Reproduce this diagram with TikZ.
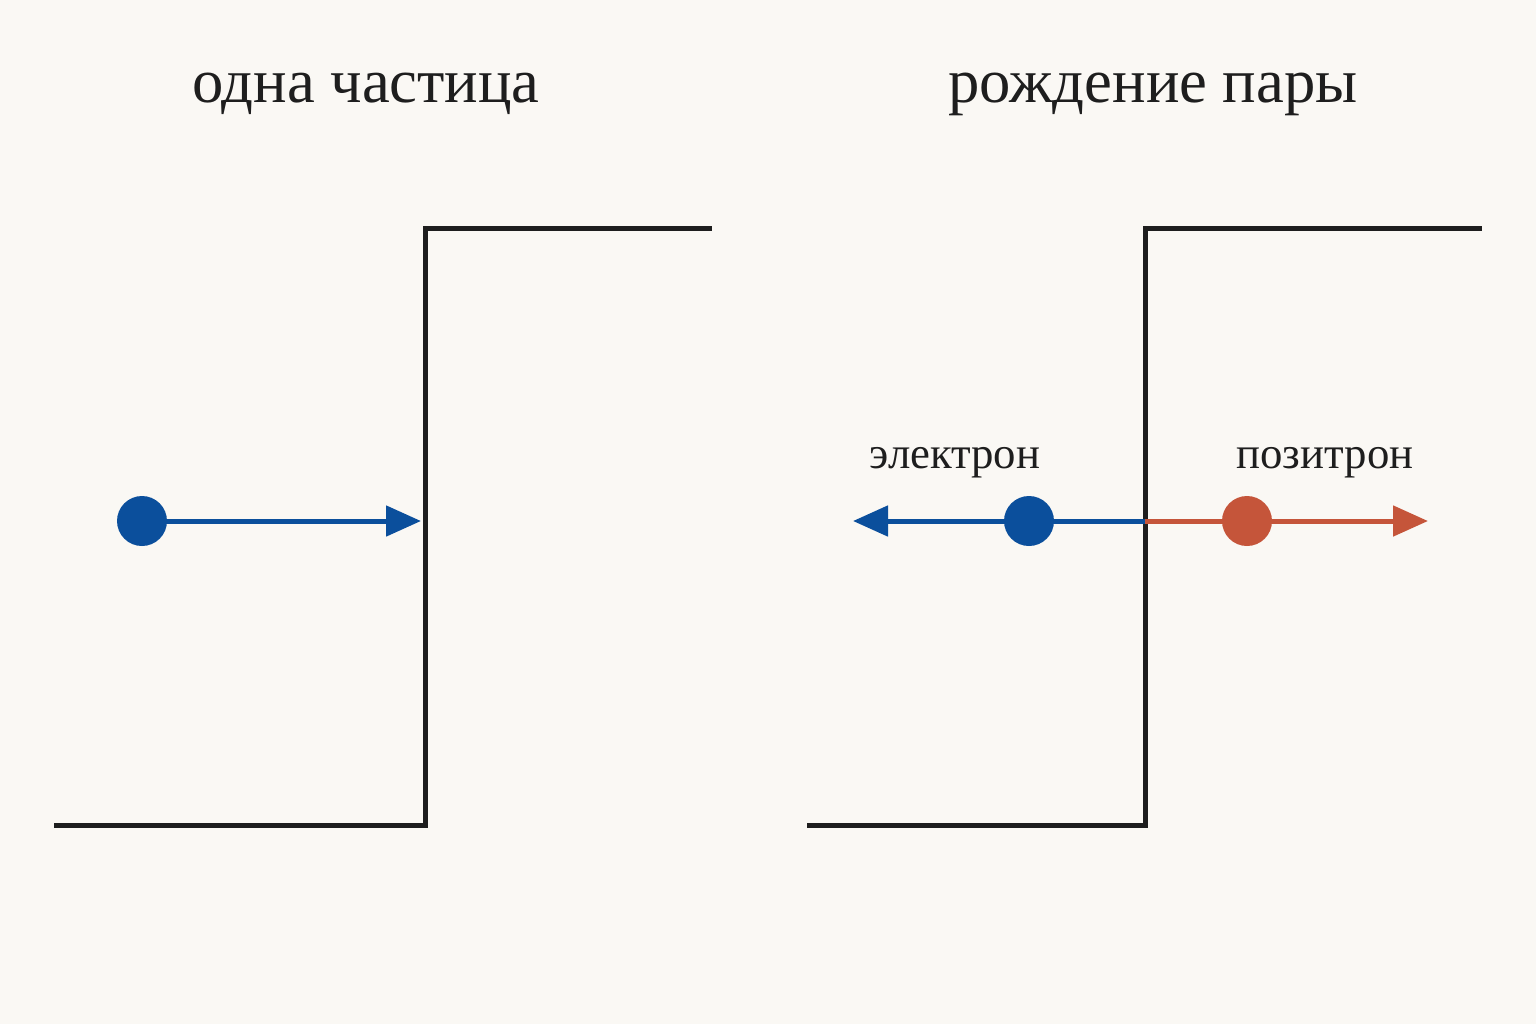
\documentclass[tikz,border=0pt]{standalone}
\usepackage{fontspec}
\setmainfont{Liberation Serif}
\usetikzlibrary{arrows.meta}
\definecolor{bg}{HTML}{FAF8F4}
\definecolor{ink}{HTML}{1E1E1E}
\definecolor{eblue}{HTML}{0B4F9C}
\definecolor{porange}{HTML}{C5553A}
\tikzset{
  wall/.style={draw=ink, line width=2.5pt, line join=miter},
  title/.style={anchor=base, font=\fontsize{31.3}{36}\selectfont, text=ink, inner sep=0pt},
  lbl/.style={anchor=base, font=\fontsize{22.4}{27}\selectfont, text=ink, inner sep=0pt},
  dot/.style={circle, inner sep=0pt, minimum size=25pt, fill=#1},
  vec/.style={draw=#1, line width=2.5pt, -{Triangle[length=17.5pt,width=15pt]}},
}
\begin{document}
\begin{tikzpicture}[x=0.5pt,y=-0.5pt]
\fill[bg] (0,0) rectangle (1536,1024);
\useasboundingbox (0,0) rectangle (1536,1024);
% titles
\node[title] (t1) at (366,102) {одна частица};
\node[title] (t2) at (1153,102) {рождение пары};
% left step
\coordinate (l0) at (54,825);
\coordinate (l1) at (425,825);
\coordinate (l2) at (425,228);
\coordinate (l3) at (712,228);
\draw[wall] (l0) -- (l1) -- (l2) -- (l3);
% right step
\coordinate (r0) at (807,825);
\coordinate (r1) at (1145,825);
\coordinate (r2) at (1145,228);
\coordinate (r3) at (1482,228);
\draw[wall] (r0) -- (r1) -- (r2) -- (r3);
% single particle
\node[dot=eblue] (p) at (142,521) {};
\coordinate (ptip) at (421,521);
\draw[vec=eblue] (p.center) -- (ptip);
% pair
\coordinate (mid) at (1145,521);
\coordinate (etip) at (853,521);
\coordinate (otip) at (1428,521);
\draw[vec=eblue] (mid) -- (etip);
\draw[vec=porange] (mid) -- (otip);
\node[dot=eblue] (e) at (1029,521) {};
\node[dot=porange] (o) at (1247,521) {};
\node[lbl] (el) at (955,468) {электрон};
\node[lbl] (ol) at (1325,468) {позитрон};
\end{tikzpicture}
\end{document}
